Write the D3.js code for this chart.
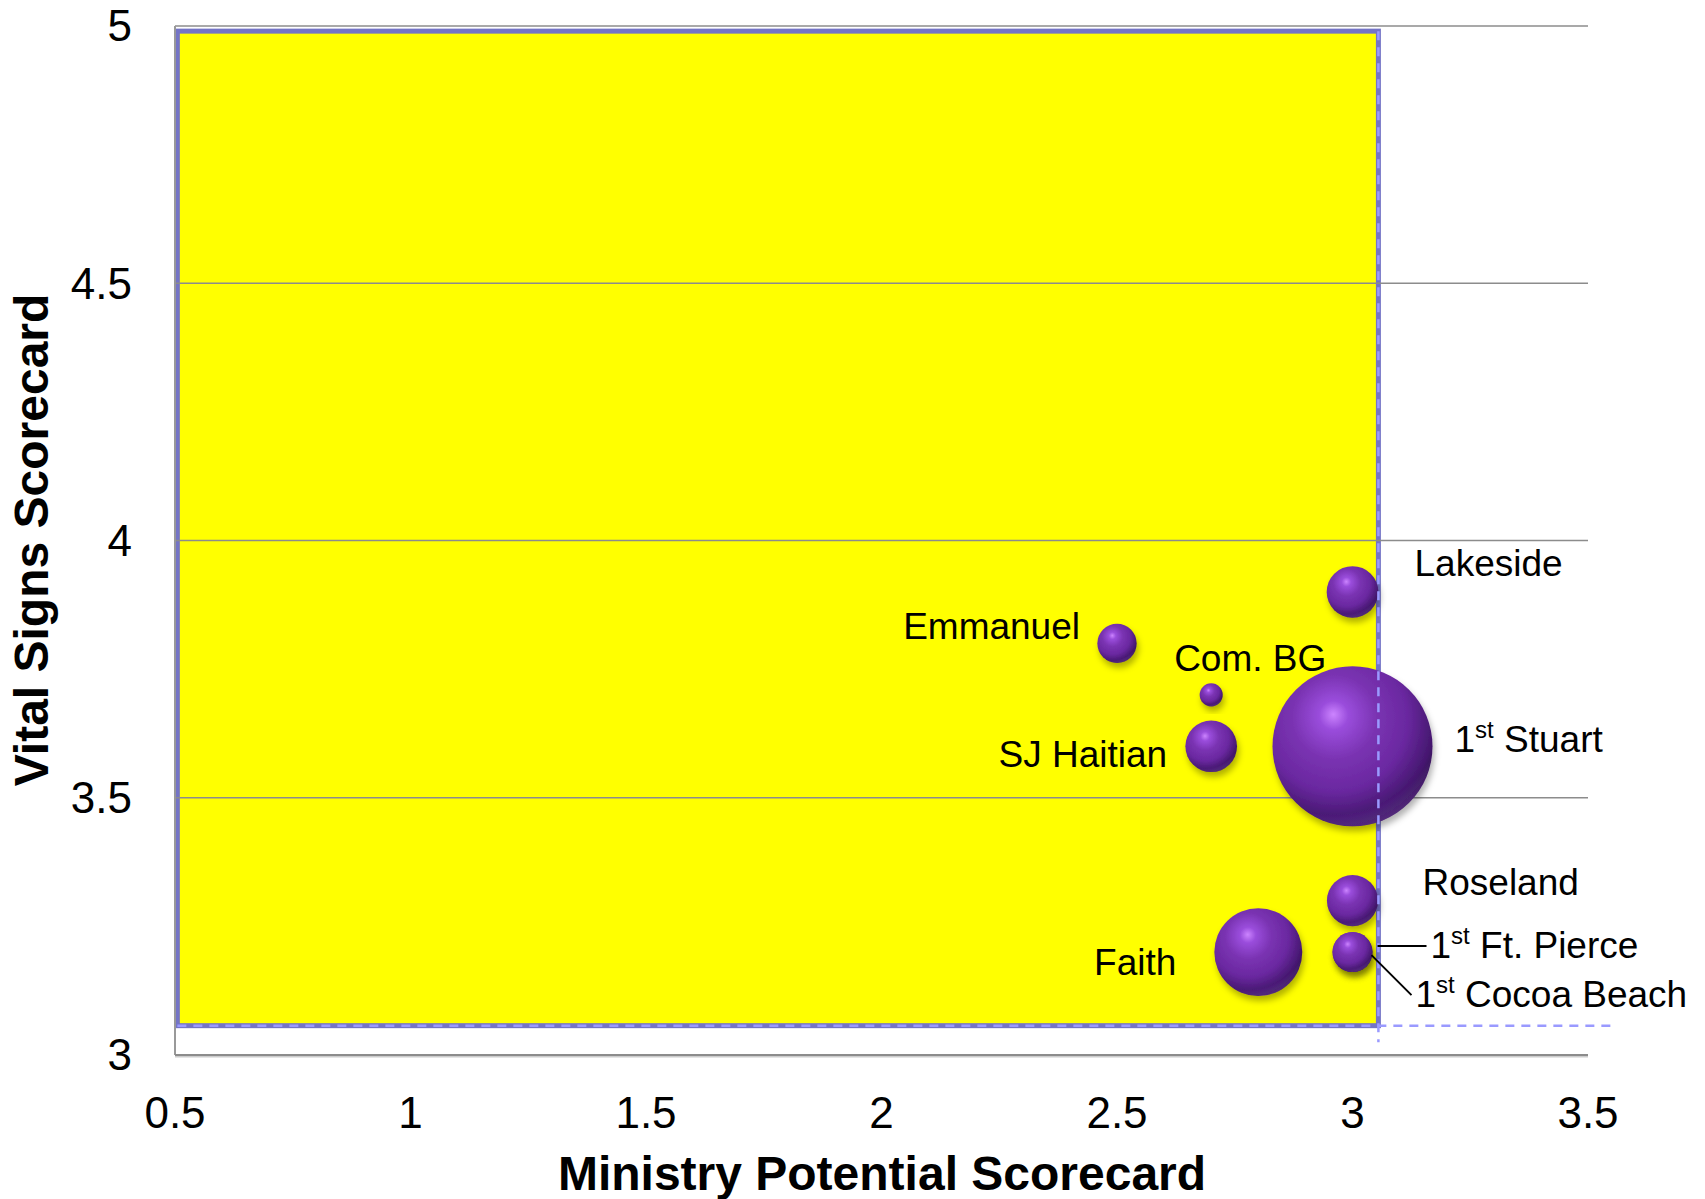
<!DOCTYPE html>
<html>
<head>
<meta charset="utf-8">
<script src="https://cdn.jsdelivr.net/npm/d3@7"></script>
<style>
    html, body { margin: 0; padding: 0; background: #fff; }
    svg { display: block; font-family: "Liberation Sans", Arial, sans-serif; }
</style>
</head>
<body>
<div id="chart"></div>
<script>

// chart values
var churches = ['Lakeside', 'Emmanuel', 'Com. BG', 'SJ Haitian', '1st Stuart',
    'Roseland', '1st Ft. Pierce', '1st Cocoa Beach', 'Faith'];
var ministryPotential = [3.0, 2.5, 2.7, 2.7, 3.0, 3.0, 3.0, 3.0, 2.8];
var vitalSigns = [3.9, 3.8, 3.7, 3.6, 3.6, 3.3, 3.2, 3.2, 3.2];
var bubbleSize = [50, 29, 10, 50, 480, 49, 30, 30, 145];

var xTicks = [0.5, 1, 1.5, 2, 2.5, 3, 3.5];
var yTicks = [3, 3.5, 4, 4.5, 5];

// quadrant cut-off drawn as the yellow box
var cutX = 3.055,
    cutY = 3.057;

// where each label sits relative to its bubble (px)
var labelLayout = [
    { anchor: 'start', dx: 62, dy: -16 },
    { anchor: 'end', dx: -37, dy: -4 },
    { anchor: 'middle', dx: 39, dy: -24 },
    { anchor: 'end', dx: -44, dy: 21 },
    { anchor: 'start', dx: 102, dy: 6 },
    { anchor: 'start', dx: 70, dy: -6 },
    { anchor: 'start', dx: 78, dy: 6, leader: [25, -6, 74, -6] },
    { anchor: 'start', dx: 63, dy: 55, leader: [19, 3, 59, 43] },
    { anchor: 'end', dx: -82, dy: 23 }
];

var width = 1705,
    height = 1199;

var x = d3.scaleLinear().domain([0.5, 3.5]).range([175, 1588]),
    y = d3.scaleLinear().domain([3, 5]).range([1055, 26]),
    r = d3.scaleSqrt().domain([0, 480]).range([0, 80]);

var svg = d3.select('#chart')
    .append('svg')
    .attr('width', width)
    .attr('height', height);

var defs = svg.append('defs');

var ball = defs.append('radialGradient')
    .attr('id', 'ball')
    .attr('cx', 0.4).attr('cy', 0.35).attr('r', 0.75)
    .attr('fx', 0.38).attr('fy', 0.3);
[[0, '#cc84ff'], [0.12, '#9a4ddc'], [0.35, '#7a33b2'], [0.6, '#6a28a0'], [0.82, '#44176e'], [1, '#14041e']]
    .forEach(function(s) {
        ball.append('stop').attr('offset', s[0]).attr('stop-color', s[1]);
    });

var rim = defs.append('radialGradient')
    .attr('id', 'rim')
    .attr('cx', 0.38).attr('cy', 0.22).attr('r', 0.95);
[[0, 0], [0.74, 0], [0.9, 0.5], [1, 0.6]]
    .forEach(function(s) {
        rim.append('stop').attr('offset', s[0])
            .attr('stop-color', '#a066e6').attr('stop-opacity', s[1]);
    });

defs.append('filter')
    .attr('id', 'shadow')
    .attr('x', '-30%').attr('y', '-30%').attr('width', '160%').attr('height', '160%')
    .append('feDropShadow')
    .attr('dx', 2).attr('dy', 5)
    .attr('stdDeviation', 3)
    .attr('flood-color', '#000')
    .attr('flood-opacity', 0.3);

// yellow quadrant box
svg.append('rect')
    .attr('x', x(0.505))
    .attr('y', y(4.99))
    .attr('width', x(cutX) - x(0.505))
    .attr('height', y(cutY) - y(4.99))
    .attr('fill', '#ffff00')
    .attr('stroke', '#7474c6')
    .attr('stroke-width', 5);

// gridlines
svg.append('g')
    .selectAll('line')
    .data(yTicks.slice(1))
    .enter()
    .append('line')
    .attr('x1', x(0.5))
    .attr('x2', x(3.5))
    .attr('y1', function(d) { return y(d); })
    .attr('y2', function(d) { return y(d); })
    .attr('stroke', '#8c8c8c')
    .attr('stroke-width', 1.5);

// axis lines
svg.append('line')
    .attr('x1', x(0.5)).attr('x2', x(0.5))
    .attr('y1', y(5)).attr('y2', y(3))
    .attr('stroke', '#999')
    .attr('stroke-width', 2);

svg.append('line')
    .attr('x1', x(0.5)).attr('x2', x(3.5))
    .attr('y1', y(3) + 1.5).attr('y2', y(3) + 1.5)
    .attr('stroke', '#ccc')
    .attr('stroke-width', 2);

svg.append('line')
    .attr('x1', x(0.5)).attr('x2', x(3.5))
    .attr('y1', y(3)).attr('y2', y(3))
    .attr('stroke', '#8c8c8c')
    .attr('stroke-width', 2);

// bubbles, biggest first so the small ones stay on top
var order = d3.range(churches.length).sort(function(a, b) {
    return bubbleSize[b] - bubbleSize[a];
});

var bubbles = svg.append('g')
    .selectAll('g')
    .data(order)
    .enter()
    .append('g')
    .attr('transform', function(i) {
        return 'translate(' + x(ministryPotential[i]) + ',' + y(vitalSigns[i]) + ')';
    });

bubbles.append('circle')
    .attr('r', function(i) { return r(bubbleSize[i]); })
    .attr('fill', 'url(#ball)')
    .attr('filter', 'url(#shadow)');

bubbles.append('circle')
    .attr('r', function(i) { return r(bubbleSize[i]); })
    .attr('fill', 'url(#rim)');

// dashed cut lines
svg.append('line')
    .attr('x1', x(cutX)).attr('x2', x(cutX))
    .attr('y1', y(4.99)).attr('y2', y(3.025))
    .attr('stroke', '#9a9aff')
    .attr('stroke-width', 2.5)
    .attr('stroke-dasharray', '9,7');

svg.append('line')
    .attr('x1', x(0.505)).attr('x2', 1615)
    .attr('y1', y(cutY)).attr('y2', y(cutY))
    .attr('stroke', '#9a9aff')
    .attr('stroke-width', 2.5)
    .attr('stroke-dasharray', '9,7');

// labels
var labels = svg.append('g')
    .selectAll('g')
    .data(churches)
    .enter()
    .append('g')
    .attr('transform', function(d, i) {
        return 'translate(' + x(ministryPotential[i]) + ',' + y(vitalSigns[i]) + ')';
    });

labels.filter(function(d, i) { return labelLayout[i].leader; })
    .append('line')
    .attr('x1', function(d) { return labelLayout[churches.indexOf(d)].leader[0]; })
    .attr('y1', function(d) { return labelLayout[churches.indexOf(d)].leader[1]; })
    .attr('x2', function(d) { return labelLayout[churches.indexOf(d)].leader[2]; })
    .attr('y2', function(d) { return labelLayout[churches.indexOf(d)].leader[3]; })
    .attr('stroke', '#000')
    .attr('stroke-width', 2);

labels.append('text')
    .attr('x', function(d, i) { return labelLayout[i].dx; })
    .attr('y', function(d, i) { return labelLayout[i].dy; })
    .attr('text-anchor', function(d, i) { return labelLayout[i].anchor; })
    .attr('font-size', 37)
    .attr('fill', '#000')
    .each(function(d) {
        var t = d3.select(this);
        if (d.indexOf('1st ') === 0) {
            // superscript "st"
            t.append('tspan').text('1');
            t.append('tspan').attr('font-size', 24).attr('dy', -14).text('st');
            t.append('tspan').attr('dy', 14).text(' ' + d.slice(4));
        } else {
            t.text(d);
        }
    });

// tick labels
svg.append('g')
    .selectAll('text')
    .data(xTicks)
    .enter()
    .append('text')
    .attr('x', function(d) { return x(d); })
    .attr('y', 1128)
    .attr('text-anchor', 'middle')
    .attr('font-size', 44)
    .text(function(d) { return d; });

svg.append('g')
    .selectAll('text')
    .data(yTicks)
    .enter()
    .append('text')
    .attr('x', 132)
    .attr('y', function(d) { return y(d); })
    .attr('dy', '0.35em')
    .attr('text-anchor', 'end')
    .attr('font-size', 44)
    .text(function(d) { return d; });

// axis titles
svg.append('text')
    .attr('x', 882)
    .attr('y', 1190)
    .attr('text-anchor', 'middle')
    .attr('font-size', 48)
    .attr('font-weight', 'bold')
    .text('Ministry Potential Scorecard');

svg.append('text')
    .attr('transform', 'translate(48,540) rotate(-90)')
    .attr('text-anchor', 'middle')
    .attr('font-size', 48)
    .attr('font-weight', 'bold')
    .text('Vital Signs Scorecard');

</script>
</body>
</html>
